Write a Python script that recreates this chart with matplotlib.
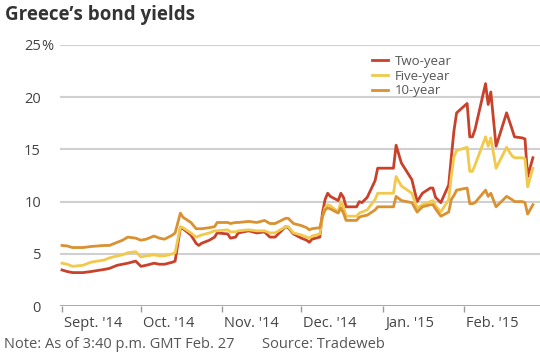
import matplotlib
matplotlib.use("Agg")
import matplotlib.pyplot as plt
import matplotlib.transforms as mtransforms
import pandas as pd

plt.rcParams['font.family'] = ['Open Sans', 'DejaVu Sans']

dates = [
    "2014-09-01", "2014-09-03", "2014-09-05", "2014-09-09", "2014-09-12", "2014-09-17",
    "2014-09-19", "2014-09-22", "2014-09-24", "2014-09-26", "2014-09-29", "2014-10-01",
    "2014-10-03", "2014-10-06", "2014-10-08", "2014-10-10", "2014-10-13", "2014-10-14",
    "2014-10-16", "2014-10-17", "2014-10-20", "2014-10-22", "2014-10-23", "2014-10-24",
    "2014-10-27", "2014-10-29", "2014-10-30", "2014-11-03", "2014-11-04", "2014-11-06",
    "2014-11-07", "2014-11-11", "2014-11-14", "2014-11-17", "2014-11-19", "2014-11-21",
    "2014-11-25", "2014-11-26", "2014-11-28", "2014-12-01", "2014-12-03", "2014-12-04",
    "2014-12-05", "2014-12-08", "2014-12-09", "2014-12-10", "2014-12-11", "2014-12-12",
    "2014-12-15", "2014-12-16", "2014-12-17", "2014-12-18", "2014-12-22", "2014-12-23",
    "2014-12-24", "2014-12-26", "2014-12-29", "2014-12-30", "2015-01-05", "2015-01-06",
    "2015-01-08", "2015-01-12", "2015-01-14", "2015-01-16", "2015-01-19", "2015-01-20",
    "2015-01-21", "2015-01-23", "2015-01-26", "2015-01-27", "2015-01-28", "2015-01-29",
    "2015-02-02", "2015-02-03", "2015-02-04", "2015-02-05", "2015-02-09", "2015-02-10",
    "2015-02-11", "2015-02-13", "2015-02-17", "2015-02-19", "2015-02-20", "2015-02-23",
    "2015-02-24", "2015-02-25", "2015-02-27",
]

two_year = [
    3.45, 3.3, 3.2, 3.2, 3.3, 3.5,
    3.6, 3.9, 4.0, 4.1, 4.3, 3.8,
    3.9, 4.1, 4.0, 4.0, 4.2, 4.3,
    7.5, 7.4, 6.8, 6.0, 5.8, 6.0,
    6.3, 6.6, 7.0, 6.9, 6.5, 6.6,
    7.0, 7.2, 7.0, 7.1, 6.6, 6.6,
    7.6, 7.5, 6.9, 6.5, 6.3, 6.1,
    6.4, 6.6, 8.9, 10.2, 10.8, 10.5,
    10.1, 10.8, 10.4, 9.5, 9.5, 10.0,
    9.9, 10.4, 12.0, 13.2, 13.2, 15.4,
    13.7, 12.1, 10.0, 10.8, 11.3, 11.3,
    10.4, 9.9, 11.6, 14.3, 16.8, 18.5,
    19.4, 16.2, 16.2, 16.9, 21.3, 19.3,
    20.5, 15.3, 18.5, 17.0, 16.2, 16.1,
    16.0, 12.4, 14.2,
]

five_year = [
    4.1, 4.0, 3.8, 3.9, 4.2, 4.4,
    4.6, 4.8, 4.9, 5.1, 5.2, 4.7,
    4.8, 4.9, 4.8, 4.8, 5.0, 5.1,
    7.6, 7.5, 7.0, 6.6, 6.7, 6.8,
    7.0, 7.2, 7.2, 7.3, 7.1, 7.1,
    7.2, 7.3, 7.2, 7.2, 7.0, 7.0,
    7.6, 7.6, 7.0, 6.8, 6.6, 6.5,
    6.7, 6.9, 8.5, 9.4, 9.7, 9.6,
    9.0, 10.0, 9.5, 8.6, 8.6, 8.9,
    9.0, 9.2, 10.2, 10.8, 10.8, 12.4,
    11.5, 10.8, 9.4, 9.7, 10.0, 10.1,
    9.6, 9.0, 10.2, 12.5, 14.3, 14.9,
    15.2, 12.9, 12.9, 13.5, 16.2, 15.3,
    16.1, 13.2, 15.2, 14.4, 14.2, 14.2,
    14.1, 11.4, 13.2,
]

ten_year = [
    5.8, 5.75, 5.6, 5.6, 5.7, 5.8,
    5.8, 6.1, 6.3, 6.6, 6.5, 6.3,
    6.4, 6.7, 6.5, 6.4, 6.8, 7.0,
    8.9, 8.5, 8.0, 7.4, 7.4, 7.4,
    7.5, 7.6, 8.0, 8.0, 7.9, 8.0,
    8.0, 8.1, 8.0, 8.2, 7.9, 7.9,
    8.4, 8.4, 7.9, 7.7, 7.5, 7.3,
    7.4, 7.5, 8.6, 9.2, 9.4, 9.3,
    8.9, 9.4, 8.9, 8.2, 8.2, 8.5,
    8.6, 8.7, 9.2, 9.5, 9.5, 10.5,
    10.1, 9.9, 9.0, 9.5, 9.7, 9.7,
    9.3, 8.6, 9.0, 10.2, 10.6, 11.1,
    11.3, 9.8, 9.8, 9.9, 11.1, 10.5,
    10.8, 9.5, 10.5, 10.2, 10.0, 10.0,
    9.9, 8.8, 9.7,
]

series_names = ["Two-year", "Five-year", "10-year"]
series_colors = ["#c8412b", "#f1c94c", "#d99132"]
y_ticks = [0, 5, 10, 15, 20, 25]
tick_months = ["2014-09-01", "2014-10-01", "2014-11-01", "2014-12-01", "2015-01-01", "2015-02-01"]
tick_labels = ["Sept. '14", "Oct. '14", "Nov. '14", "Dec. '14", "Jan. '15", "Feb. '15"]

x = pd.to_datetime(dates)

fig = plt.figure(figsize=(5.4, 3.58), dpi=100)
ax = fig.add_axes([60 / 540, 1 - 306 / 358, 480 / 540, (306 - 45) / 358])

for vals, name, col in zip([two_year, five_year, ten_year], series_names, series_colors):
    ax.plot(x, vals, color=col, lw=2.0, label=name, zorder=3)

ax.set_ylim(0, 25)
ax.set_xlim(pd.Timestamp("2014-09-01") - pd.Timedelta(days=0.76),
            pd.Timestamp("2014-09-01") + pd.Timedelta(days=181.7))

ax.set_yticks(y_ticks)
ax.set_yticklabels([str(t) for t in y_ticks])
ax.tick_params(axis='y', length=0, pad=19 * 0.72, labelsize=10.5, labelcolor='#444444')
for t in y_ticks[1:]:
    ax.axhline(t, color='#d0d0d0', lw=1.5, zorder=1)
ax.axhline(0, color='#9a9a9a', lw=1.2, zorder=2)
ax.text(-19 / 480, 25, "%", transform=mtransforms.blended_transform_factory(ax.transAxes, ax.transData),
        ha='left', va='center_baseline', fontsize=10.5, color='#444444')

ax.set_xticks(pd.to_datetime(tick_months))
ax.set_xticklabels(tick_labels)
ax.tick_params(axis='x', length=4, width=1, color='#9a9a9a', pad=3, labelsize=10.5, labelcolor='#444444')
offset = mtransforms.ScaledTranslation(2 / 100, 0, fig.dpi_scale_trans)
for lab in ax.get_xticklabels():
    lab.set_horizontalalignment('left')
    lab.set_transform(lab.get_transform() + offset)

for s in ax.spines.values():
    s.set_visible(False)

leg = ax.legend(loc='upper left', bbox_to_anchor=(372 / 540, 1 - 55 / 358), bbox_transform=fig.transFigure,
                frameon=False, fontsize=9.5, handlelength=1.2, handletextpad=0.55,
                labelspacing=0.12, borderaxespad=0, borderpad=0)
for t in leg.get_texts():
    t.set_color('#555555')

fig.text(5 / 540, 1 - 15 / 358, "Greece\u2019s bond yields", fontsize=13.5, fontweight='bold',
         color='#333333', ha='left', va='center')
fig.text(4 / 540, 1 - 345 / 358, "Note: As of 3:40 p.m. GMT Feb. 27", fontsize=10.5,
         color='#555555', ha='left', va='center')
fig.text(262 / 540, 1 - 345 / 358, "Source: Tradeweb", fontsize=10.5,
         color='#555555', ha='left', va='center')

fig.savefig("out.png", dpi=100, facecolor='white')
